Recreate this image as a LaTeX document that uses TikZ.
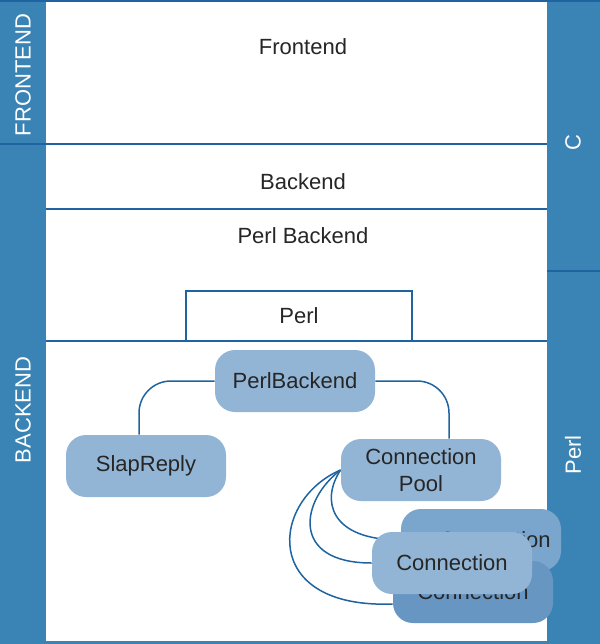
\documentclass[tikz,border=0pt]{standalone}
\usepackage{fontspec}
\setmainfont{Liberation Sans}
\usepackage{tikz}
\definecolor{strip}{HTML}{3A84B5}
\definecolor{rule}{HTML}{1F64A0}
\definecolor{boxfill}{HTML}{93B5D5}
\definecolor{boxmid}{HTML}{7AA5CC}
\definecolor{boxdark}{HTML}{6896C2}
\pgfdeclarelayer{links}
\pgfsetlayers{links,main}

\begin{document}
\begin{tikzpicture}[
    x=0.5pt, y=-0.5pt,
    font=\fontsize{11}{13}\selectfont,
    sidelabel/.style={text=white,rotate=90},
    layer/.style={text=black!85},
    comp/.style={rounded corners=10pt,fill=boxfill,minimum width=80pt,
      minimum height=31pt,align=center,text=black!85,
      font=\fontsize{11}{13.5}\selectfont},
    link/.style={rule,line width=0.75pt}
    ]
    \useasboundingbox (0,0) rectangle (600,644);
    \begin{pgfonlayer}{links}
    \fill[white] (0,0) rectangle (600,644);
    \end{pgfonlayer}
    % side strips
    \fill[strip] (0,0) rectangle (46,644);
    \fill[strip] (547,0) rectangle (600,644);
    \draw[rule,line width=1pt] (0,1) -- (600,1);
    \draw[strip,line width=1.5pt] (0,642) -- (600,642);
    \draw[rule,line width=0.8pt] (0,144) -- (547,144);
    \draw[rule,line width=0.8pt] (46,209) -- (547,209);
    \draw[rule,line width=0.8pt] (46,341) -- (547,341);
    \draw[rule,line width=1pt] (547,271) -- (600,271);
    \draw[rule,line width=0.8pt] (186,341) -- (186,291) -- (412,291) -- (412,341);
    % labels
    \node[sidelabel] (frontendside) at (23,75) {FRONTEND};
    \node[sidelabel] (backendside) at (23,410) {BACKEND};
    \node[sidelabel] (cside) at (573,143) {C};
    \node[sidelabel] (perlside) at (573,455) {Perl};
    \node[layer] (frontend) at (303,47) {Frontend};
    \node[layer] (backend) at (303,182) {Backend};
    \node[layer] (perlbackend) at (303,236) {Perl Backend};
    \node[layer] (perl) at (299,316) {Perl};
    % components
    \node[comp] (pb) at (295,381) {PerlBackend};
    \node[comp] (slap) at (146,466) {SlapReply};
    \node[comp] (pool) at (421,470) {Connection\\Pool};
    \node[comp,fill=boxmid] (c1) at (481,540) {\hspace*{14pt}Connection};
    \node[comp,fill=boxdark] (c3) at (473,592) {Connection};
    \node[comp] (c2) at (452,563) {Connection};
    \begin{pgfonlayer}{links}
    \draw[link,rounded corners=16pt] (pb.west) -| ([xshift=-3.5pt]slap.north);
    \draw[link,rounded corners=16pt] (pb.east) -| ([xshift=14pt]pool.north);
    \draw[link] (pool.west) .. controls +(-20,30) and +(-71,0) .. (c1.west);
    \draw[link] (pool.west) .. controls +(-40,30) and +(-82,0) .. (c2.west);
    \draw[link] (pool.west) .. controls +(-70,30) and +(-133,5) .. ([yshift=-6pt]c3.west);
    \end{pgfonlayer}
  \end{tikzpicture}
\end{document}
